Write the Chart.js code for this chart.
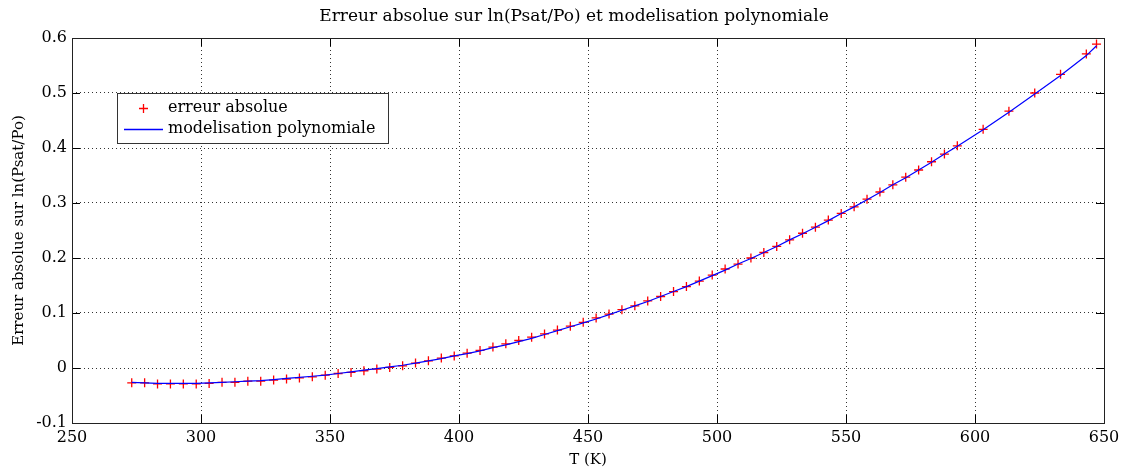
<!DOCTYPE html>
<html>
<head>
<meta charset="utf-8">
<title>Erreur absolue sur ln(Psat/Po)</title>
<script src="https://cdn.jsdelivr.net/npm/chart.js@4.4.1/dist/chart.umd.min.js"></script>
<style>
  html, body { margin: 0; padding: 0; background: #fff; }
  #wrap { width: 1125px; height: 470px; }
</style>
</head>
<body>
<div id="wrap"><canvas id="chart" width="1125" height="470"></canvas></div>
<script>
// temperatures (K)
const temperatures = [
  273.15, 278.15, 283.15, 288.15, 293.15, 298.15, 303.15, 308.15, 313.15, 318.15,
  323.15, 328.15, 333.15, 338.15, 343.15, 348.15, 353.15, 358.15, 363.15, 368.15,
  373.15, 378.15, 383.15, 388.15, 393.15, 398.15, 403.15, 408.15, 413.15, 418.15,
  423.15, 428.15, 433.15, 438.15, 443.15, 448.15, 453.15, 458.15, 463.15, 468.15,
  473.15, 478.15, 483.15, 488.15, 493.15, 498.15, 503.15, 508.15, 513.15, 518.15,
  523.15, 528.15, 533.15, 538.15, 543.15, 548.15, 553.15, 558.15, 563.15, 568.15,
  573.15, 578.15, 583.15, 588.15, 593.15,
  603.15, 613.15, 623.15, 633.15, 643.15, 647.1
];

// erreur absolue (markers)
const erreurAbsolue = [
  -0.027, -0.027, -0.029, -0.029, -0.029, -0.029, -0.028, -0.026, -0.026, -0.024,
  -0.024, -0.022, -0.020, -0.018, -0.016, -0.013, -0.010, -0.008, -0.005, -0.002,
  0.001, 0.004, 0.009, 0.013, 0.018, 0.022, 0.027, 0.032, 0.038, 0.044,
  0.050, 0.056, 0.062, 0.069, 0.076, 0.083, 0.091, 0.098, 0.106, 0.113,
  0.122, 0.130, 0.139, 0.148, 0.158, 0.169, 0.180, 0.189, 0.200, 0.210,
  0.221, 0.233, 0.245, 0.256, 0.269, 0.281, 0.293, 0.307, 0.320, 0.333,
  0.347, 0.360, 0.375, 0.389, 0.404,
  0.434, 0.467, 0.500, 0.534, 0.571, 0.589
];

// modelisation polynomiale (line)
const modelePoly = [
  -0.026, -0.027, -0.028, -0.028, -0.028, -0.028, -0.027, -0.026, -0.025, -0.024,
  -0.023, -0.021, -0.019, -0.017, -0.015, -0.013, -0.010, -0.007, -0.004, -0.001,
  0.002, 0.005, 0.009, 0.013, 0.017, 0.022, 0.026, 0.031, 0.037, 0.042,
  0.048, 0.054, 0.061, 0.068, 0.075, 0.082, 0.089, 0.097, 0.105, 0.113,
  0.121, 0.130, 0.139, 0.148, 0.158, 0.168, 0.178, 0.189, 0.199, 0.210,
  0.221, 0.233, 0.244, 0.256, 0.268, 0.281, 0.293, 0.306, 0.319, 0.333,
  0.346, 0.360, 0.374, 0.389, 0.403,
  0.433, 0.465, 0.498, 0.532, 0.568, 0.586
];

const xTicks = [250, 300, 350, 400, 450, 500, 550, 600, 650];
const yTicks = [-0.1, 0, 0.1, 0.2, 0.3, 0.4, 0.5, 0.6];

const titleText = 'Erreur absolue sur ln(Psat/Po) et modelisation polynomiale';
const serif = '"DejaVu Serif", "Liberation Serif", serif';
const markerColor = '#ff0000';
const lineColor = '#0000ff';

// title, box round the plot, inward tick marks, and the boxed legend
const framePlugin = {
    id: 'frame',
    afterDraw(chart) {
        const ctx = chart.ctx;
        const a = chart.chartArea;
        const xs = chart.scales.x, ys = chart.scales.y;
        ctx.save();

        ctx.fillStyle = '#000';
        ctx.font = '17px ' + serif;
        ctx.textAlign = 'center';
        ctx.textBaseline = 'middle';
        ctx.fillText(titleText, 574, 17);

        ctx.strokeStyle = '#000';
        ctx.lineWidth = 1;
        ctx.beginPath();
        xTicks.forEach(v => {
            const px = Math.round(xs.getPixelForValue(v)) + 0.5;
            ctx.moveTo(px, a.bottom); ctx.lineTo(px, a.bottom - 8);
            ctx.moveTo(px, a.top); ctx.lineTo(px, a.top + 8);
        });
        yTicks.forEach(v => {
            const py = Math.round(ys.getPixelForValue(v)) + 0.5;
            ctx.moveTo(a.left, py); ctx.lineTo(a.left + 8, py);
            ctx.moveTo(a.right, py); ctx.lineTo(a.right - 8, py);
        });
        ctx.stroke();
        ctx.strokeStyle = '#222';
        ctx.strokeRect(Math.round(a.left) + 0.5, Math.round(a.top) + 0.5,
                       Math.round(a.right - a.left), Math.round(a.bottom - a.top));

        // legend
        const ds = chart.data.datasets;
        const bx = 117, by = 93, bw = 271, bh = 50;
        ctx.fillStyle = '#fff';
        ctx.fillRect(bx, by, bw, bh);
        ctx.strokeStyle = '#333';
        ctx.strokeRect(bx + 0.5, by + 0.5, bw, bh);

        ctx.strokeStyle = markerColor;
        ctx.lineWidth = 1.3;
        ctx.beginPath();
        ctx.moveTo(139, 108.5); ctx.lineTo(148, 108.5);
        ctx.moveTo(143.5, 104); ctx.lineTo(143.5, 113);
        ctx.stroke();

        ctx.strokeStyle = lineColor;
        ctx.lineWidth = 1.5;
        ctx.beginPath();
        ctx.moveTo(124, 129.5); ctx.lineTo(163, 129.5);
        ctx.stroke();

        ctx.fillStyle = '#000';
        ctx.font = '16px ' + serif;
        ctx.textBaseline = 'middle';
        ctx.textAlign = 'left';
        ctx.fillText(ds[0].label, 168, 108);
        ctx.fillText(ds[1].label, 168, 129);
        ctx.restore();
    }
};

const ctx = document.getElementById('chart');
new Chart(ctx, {
    type: 'scatter',
    data: {
        datasets: [{
            label: 'erreur absolue',
            data: temperatures.map((t, i) => ({ x: t, y: erreurAbsolue[i] })),
            showLine: false,
            pointStyle: 'cross',
            pointRadius: 4.5,
            pointBorderWidth: 1.3,
            borderColor: markerColor,
            backgroundColor: markerColor,
            order: 1
        }, {
            label: 'modelisation polynomiale',
            data: temperatures.map((t, i) => ({ x: t, y: modelePoly[i] })),
            showLine: true,
            pointRadius: 0,
            borderColor: lineColor,
            backgroundColor: lineColor,
            borderWidth: 1.2,
            tension: 0,
            order: 0
        }]
    },
    options: {
        responsive: false,
        devicePixelRatio: 1,
        animation: false,
        events: [],
        layout: { padding: { left: 0, right: 21, top: 38, bottom: 0 } },
        plugins: {
            legend: { display: false },
            tooltip: { enabled: false },
            title: { display: false }
        },
        scales: {
            x: {
                type: 'linear',
                min: 250,
                max: 650,
                afterFit: s => { s.height = 47; },
                afterBuildTicks: s => { s.ticks = xTicks.map(v => ({ value: v })); },
                ticks: {
                    color: '#000',
                    font: { family: serif, size: 16 },
                    padding: 5,
                    maxRotation: 0
                },
                grid: {
                    color: '#333',
                    drawTicks: false,
                    tickLength: 0
                },
                border: { display: false, dash: [1, 3] },
                title: {
                    display: true,
                    text: 'T (K)',
                    color: '#000',
                    font: { family: serif, size: 15 },
                    padding: { top: 0, bottom: 1 }
                }
            },
            y: {
                type: 'linear',
                min: -0.1,
                max: 0.6,
                afterFit: s => { s.width = 72; },
                afterBuildTicks: s => { s.ticks = yTicks.map(v => ({ value: v })); },
                ticks: {
                    color: '#000',
                    font: { family: serif, size: 16 },
                    padding: 5,
                    callback: v => String(parseFloat(Number(v).toFixed(1)))
                },
                grid: {
                    color: '#333',
                    drawTicks: false,
                    tickLength: 0
                },
                border: { display: false, dash: [1, 3] },
                title: {
                    display: true,
                    text: 'Erreur absolue sur ln(Psat/Po)',
                    color: '#000',
                    font: { family: serif, size: 15 },
                    padding: { top: 10, bottom: 0 }
                }
            }
        }
    },
    plugins: [framePlugin]
});
</script>
</body>
</html>
